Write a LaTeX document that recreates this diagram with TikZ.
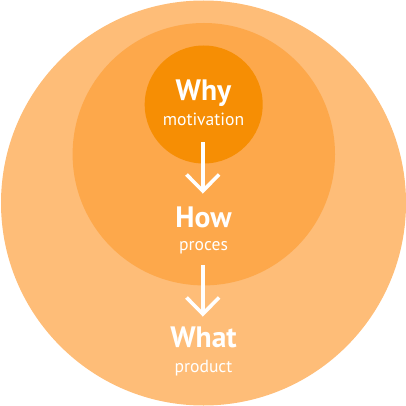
\documentclass[tikz,border=0pt]{standalone}
\usepackage{fontspec}
\setmainfont{PT Sans}
\definecolor{outerc}{HTML}{FEBD78}
\definecolor{midc}{HTML}{FDA84B}
\definecolor{innerc}{HTML}{F68E04}
\begin{document}
\begin{tikzpicture}[x=1pt,y=-1pt,
  title/.style={text=white,font=\fontsize{29.5}{32}\selectfont\bfseries,anchor=base,inner sep=0pt},
  sub/.style={text=white,font=\fontsize{17.6}{20}\selectfont,anchor=base,inner sep=0pt},
  flow/.style={draw=white,line width=3.6pt},
  barb/.style={draw=white,line width=3.6pt,line cap=butt,line join=miter}]
\useasboundingbox (0,0) rectangle (406,406);
\fill[outerc] (203.5,203) circle (202.5);
\fill[midc] (203.8,154.2) circle (131.2);
\fill[innerc] (203.7,104.5) circle (59);
\node[title] (why) at (203.5,101) {Why};
\node[sub] (mot) at (203.5,125.5) {motivation};
\node[title] (how) at (203.5,227) {How};
\node[sub] (pro) at (203.5,250.5) {proces};
\node[title] (what) at (203.5,347.5) {What};
\node[sub] (prod) at (203.5,372.5) {product};
\coordinate (a1s) at (202.8,142);
\coordinate (a1e) at (202.8,191);
\coordinate (a1l) at (186.5,174.5);
\coordinate (a1r) at (219.1,174.5);
\coordinate (a2s) at (202.8,265);
\coordinate (a2e) at (202.8,314);
\coordinate (a2l) at (186.5,297.5);
\coordinate (a2r) at (219.1,297.5);
\draw[flow] (a1s) -- (a1e);
\draw[barb] (a1l) -- (a1e) -- (a1r);
\draw[flow] (a2s) -- (a2e);
\draw[barb] (a2l) -- (a2e) -- (a2r);
\end{tikzpicture}
\end{document}
